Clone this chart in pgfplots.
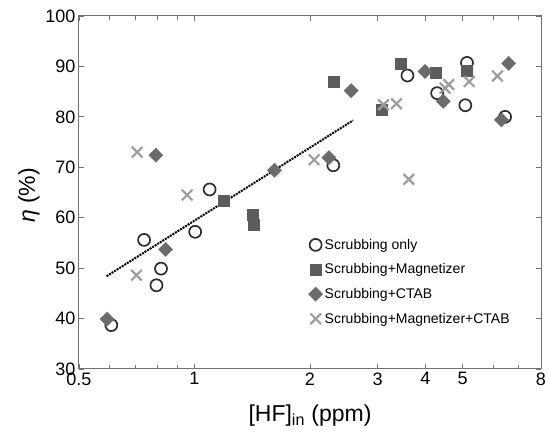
\documentclass[border=0pt]{standalone}
\usepackage{fontspec}
\setmainfont{Liberation Sans}
\usepackage{pgfplots}
\pgfplotsset{compat=1.18}
\definecolor{circ}{gray}{0.18}
\definecolor{sq}{gray}{0.36}
\definecolor{dia}{gray}{0.42}
\definecolor{crs}{gray}{0.62}
\begin{document}
\begin{tikzpicture}
\begin{axis}[
 scale only axis, width=462pt, height=353pt,
 xmode=log, xmin=0.5, xmax=8, ymin=30, ymax=100,
 xtick={0.5,1,2,3,4,5,8}, xticklabels={0.5,1,2,3,4,5,8},
 minor xtick={0.6,0.7,0.8,0.9,6,7},
 ytick={30,40,...,100},
 tick align=inside,
 axis line style={black!55, line width=1pt},
 tick style={black!55, line width=0.8pt},
 major tick length=5pt, minor tick length=4pt,
 tick label style={font=\fontsize{18}{18}\selectfont},
 /pgf/number format/assume math mode=true,
 xlabel={[HF]\textsubscript{in} (ppm)},
 ylabel={\textit{η} (\%)},
 label style={font=\fontsize{23}{23}\selectfont},
 xlabel style={at={(axis description cs:0.5,0)}, anchor=center, yshift=-47pt},
 ylabel style={at={(axis description cs:0,0.5)}, anchor=center, yshift=50pt, xshift=-3pt},
 legend style={at={(0.49,0.38)}, anchor=north west, draw=none, fill=none,
   font=\fontsize{14}{15}\selectfont, row sep=9pt},
 legend cell align=left,
]
\coordinate (A) at (rel axis cs:0,0);
\coordinate (B) at (rel axis cs:1,1);
\addplot[forget plot, black, line width=2pt, densely dotted] coordinates {(0.59,48.4) (2.59,79.3)};
\addplot[only marks, mark=o, mark size=6pt, mark options={draw=circ, line width=1.7pt}] coordinates {
(0.607,38.7) (0.739,55.6) (0.796,46.6) (0.818,49.9) (1.004,57.2) (1.095,65.6)
(2.30,70.4) (3.59,88.2) (4.29,84.7) (5.08,82.3) (5.13,90.7) (6.45,80.0)};
\addlegendentry{Scrubbing only}
\addplot[only marks, mark=square*, mark size=5.5pt, mark options={draw=sq, fill=sq}] coordinates {
(1.19,63.3) (1.417,60.6) (1.43,58.6) (2.31,86.9) (3.07,81.5) (3.44,90.5) (4.24,88.8) (5.13,89.1)};
\addlegendentry{Scrubbing+Magnetizer}
\addplot[only marks, mark=square*, mark size=5pt, mark options={draw=dia, fill=dia, rotate=45}] coordinates {
(0.592,39.9) (0.793,72.4) (0.841,53.7) (1.616,69.4) (2.24,71.9) (2.56,85.2)
(3.99,89.0) (4.45,83.1) (6.31,79.4) (6.59,90.6)};
\addlegendentry{Scrubbing+CTAB}
\addplot[only marks, mark=x, mark size=7.5pt, mark options={draw=crs, line width=2.2pt}] coordinates {
(0.709,73.0) (0.706,48.6) (0.957,64.5) (2.05,71.5) (3.11,82.4) (3.36,82.6)
(3.62,67.6) (4.5,85.7) (4.6,86.4) (5.2,87.0) (6.16,88.1)};
\addlegendentry{Scrubbing+Magnetizer+CTAB}
\end{axis}
\pgfresetboundingbox
\path ([shift={(-79pt,-67pt)}]A) rectangle ([shift={(7pt,16pt)}]B);
\end{tikzpicture}
\end{document}
